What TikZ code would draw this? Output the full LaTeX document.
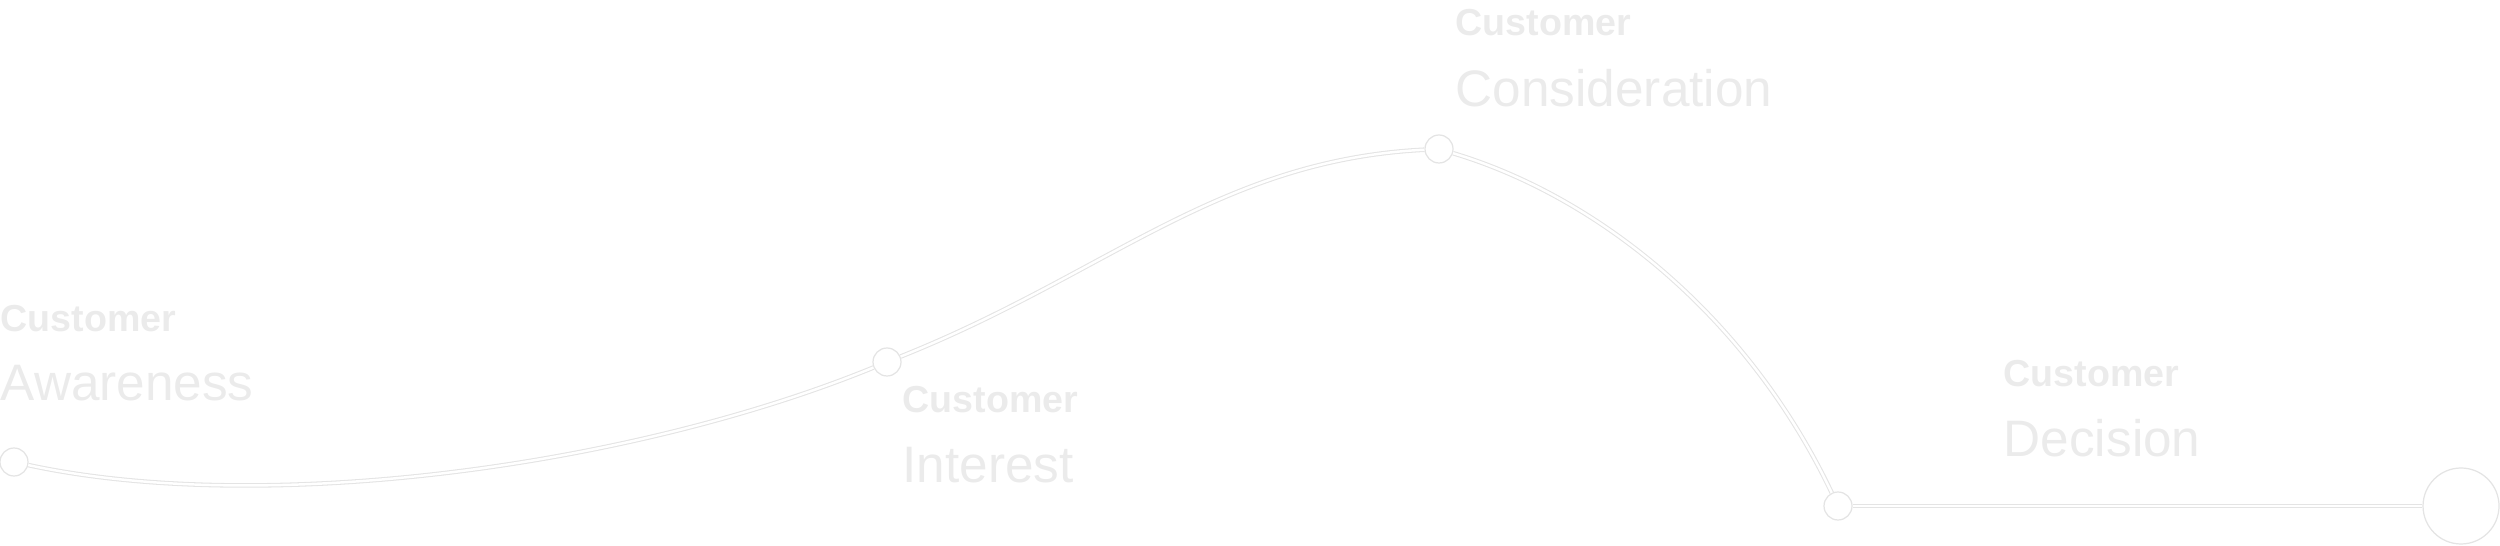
\documentclass[tikz,border=0pt]{standalone}
\usepackage{fontspec}
\setmainfont{Liberation Sans}
\usetikzlibrary{positioning,calc}
\definecolor{edge}{HTML}{E4E4E4}
\definecolor{txt}{HTML}{EBEBEB}
\tikzset{
  stage/.style={circle, draw=edge, fill=white, line width=0.35pt, inner sep=0pt, minimum size=0.28cm},
  goal/.style={circle, draw=edge, fill=white, line width=0.35pt, inner sep=0pt, minimum size=0.76cm},
  path/.style={draw=edge, line width=0.3pt, double=white, double distance=0.7pt},
  kicker/.style={anchor=base west, inner sep=0pt, text=txt, font=\fontsize{10.7}{12}\selectfont\bfseries},
  title/.style={anchor=base west, inner sep=0pt, text=txt, font=\fontsize{14.6}{17}\selectfont},
}
\begin{document}
\begin{tikzpicture}
  \useasboundingbox (0,0) rectangle (25,5.46);
  % labels
  \node[kicker] (k1) at (0,2.14) {Customer};
  \node[title] (t1) at (0,1.45) {Awareness};
  \node[kicker] (k2) at (9.02,1.33) {Customer};
  \node[title] (t2) at (9.02,0.63) {Interest};
  \node[kicker] (k3) at (14.55,5.10) {Customer};
  \node[title] (t3) at (14.55,4.39) {Consideration};
  \node[kicker] (k4) at (20.03,1.59) {Customer};
  \node[title] (t4) at (20.03,0.89) {Decision};
  % stages
  \node[stage] (aw) at (0.14,0.84) {};
  \node[stage] (in) at (8.87,1.84) {};
  \node[stage] (co) at (14.39,3.97) {};
  \node[stage] (de) at (18.38,0.40) {};
  \node[goal] (end) at (24.61,0.40) {};
  \draw[path] (aw) .. controls (2.64,0.30) and (6.30,0.79) .. (in);
  \draw[path] (in) .. controls (11.07,2.72) and (12.19,3.86) .. (co);
  \draw[path] (co) .. controls (15.99,3.49) and (17.48,2.29) .. (de);
  \draw[path] (de) -- (end);
\end{tikzpicture}
\end{document}
